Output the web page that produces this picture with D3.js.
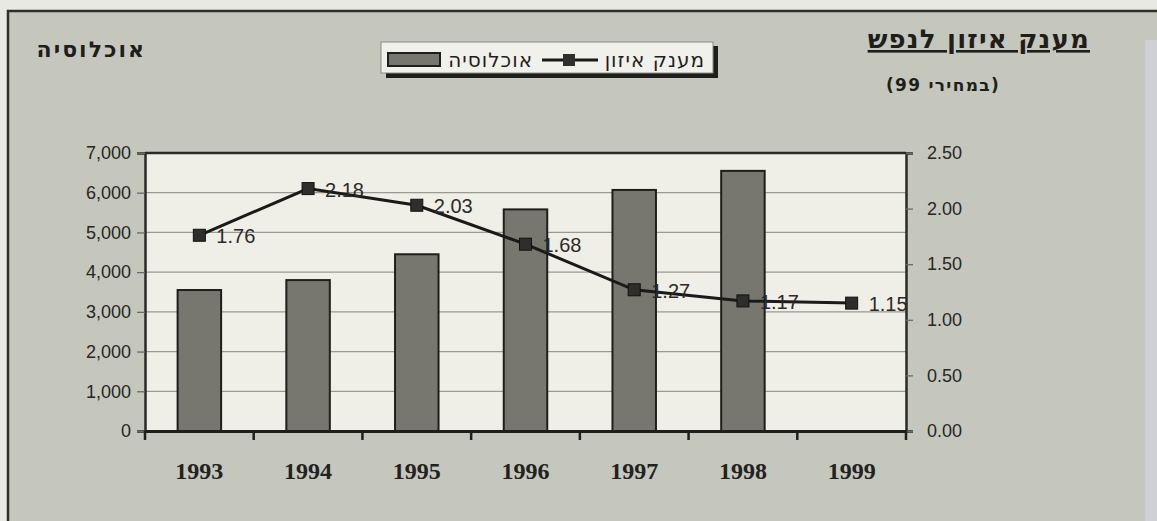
<!DOCTYPE html>
<html>
<head>
<meta charset="utf-8">
<script src="https://cdn.jsdelivr.net/npm/d3@7/dist/d3.min.js"></script>
<style>
  html, body { margin: 0; padding: 0; background: #e9e9e3; }
  svg { display: block; }
</style>
</head>
<body>
<svg id="chart" width="1157" height="521"></svg>
<script>
// ---- data ----
const years = ["1993", "1994", "1995", "1996", "1997", "1998", "1999"];
const population = [3550, 3800, 4450, 5580, 6070, 6550, null];
const grant = [1.76, 2.18, 2.03, 1.68, 1.27, 1.17, 1.15];
const leftTicks = [0, 1000, 2000, 3000, 4000, 5000, 6000, 7000];
const rightTicks = [0, 0.5, 1.0, 1.5, 2.0, 2.5];
const titleText = "מענק איזון לנפש";
const subtitleText = "(במחירי 99)";
const leftAxisTitle = "אוכלוסיה";
const legendBar = "אוכלוסיה";
const legendLine = "מענק איזון";

const svg = d3.select("#chart");
const W = 1157, H = 521;
const m = { left: 145, right: 906, top: 153, bottom: 431 };

// background panel
svg.append("rect").attr("x", 0).attr("y", 0).attr("width", W).attr("height", H).attr("fill", "#e9e9e3");
svg.append("rect").attr("x", 8).attr("y", 11).attr("width", W + 10).attr("height", H + 10)
  .attr("fill", "#c5c7bd").attr("stroke", "#2e2e2a").attr("stroke-width", 2.5);
svg.append("rect").attr("x", 1145).attr("y", 40).attr("width", 12).attr("height", H - 40).attr("fill", "#cfd0d6");

const x = d3.scaleBand().domain(years).range([m.left, m.right]).paddingInner(0).paddingOuter(0);
const yL = d3.scaleLinear().domain([0, 7000]).range([m.bottom, m.top]);
const yR = d3.scaleLinear().domain([0, 2.5]).range([m.bottom, m.top]);

// plot area
svg.append("rect").attr("x", m.left).attr("y", m.top)
  .attr("width", m.right - m.left).attr("height", m.bottom - m.top)
  .attr("fill", "#efefe8");

// gridlines
svg.append("g").selectAll("line").data(leftTicks.filter(d => d > 0 && d < 7000)).join("line")
  .attr("x1", m.left).attr("x2", m.right)
  .attr("y1", d => yL(d)).attr("y2", d => yL(d))
  .attr("stroke", "#9a9a94").attr("stroke-width", 1.3);

// bars
const bw = x.bandwidth() * 0.4;
svg.append("g").selectAll("rect").data(years.map((y, i) => ({ y, v: population[i] })).filter(d => d.v != null)).join("rect")
  .attr("x", d => x(d.y) + x.bandwidth() / 2 - bw / 2)
  .attr("y", d => yL(d.v))
  .attr("width", bw)
  .attr("height", d => yL(0) - yL(d.v))
  .attr("fill", "#77776f").attr("stroke", "#1e1e1c").attr("stroke-width", 2);

// plot border top
svg.append("line").attr("x1", m.left).attr("x2", m.right).attr("y1", m.top).attr("y2", m.top)
  .attr("stroke", "#2a2a28").attr("stroke-width", 2.5);

// axes
const fontSans = "'Liberation Sans', Arial, sans-serif";
const fontHeb = "'DejaVu Sans', 'Liberation Sans', sans-serif";
const leftAxis = d3.axisLeft(yL).tickValues(leftTicks).tickFormat(d3.format(",")).tickSize(8).tickPadding(6);
const gl = svg.append("g").attr("transform", `translate(${m.left},0)`).call(leftAxis);
const rightAxis = d3.axisRight(yR).tickValues(rightTicks).tickFormat(d3.format(".2f")).tickSize(7).tickPadding(14);
const gr = svg.append("g").attr("transform", `translate(${m.right},0)`).call(rightAxis);
const bottomAxis = d3.axisBottom(x).tickSize(0).tickFormat(d => d).tickPadding(31);
const gb = svg.append("g").attr("transform", `translate(0,${m.bottom})`).call(bottomAxis);
// band boundary ticks
svg.append("g").selectAll("line").data(years.concat(["end"])).join("line")
  .attr("x1", (d, i) => i < years.length ? x(d) : m.right)
  .attr("x2", (d, i) => i < years.length ? x(d) : m.right)
  .attr("y1", m.bottom).attr("y2", m.bottom + 9)
  .attr("stroke", "#1e1e1c").attr("stroke-width", 2.5);

[gl, gr].forEach(g => {
  g.selectAll("path.domain").attr("stroke", "#2a2a28").attr("stroke-width", 2.5);
  g.selectAll(".tick line").attr("stroke", "#6a6a66").attr("stroke-width", 1.3);
  g.selectAll(".tick text").attr("font-family", fontSans).attr("font-size", 18).attr("fill", "#262624");
});
gb.selectAll("path.domain").attr("stroke", "#1e1e1c").attr("stroke-width", 3);
gb.selectAll(".tick text").attr("font-family", "'Liberation Serif', 'Times New Roman', serif")
  .attr("font-size", 24).attr("font-weight", "bold").attr("fill", "#222220");

// line
const pts = years.map((y, i) => ({ y, v: grant[i] }));
const line = d3.line().x(d => x(d.y) + x.bandwidth() / 2).y(d => yR(d.v));
svg.append("path").datum(pts).attr("d", line)
  .attr("fill", "none").attr("stroke", "#1a1a18").attr("stroke-width", 3);
const ms = 12;
svg.append("g").selectAll("rect").data(pts).join("rect")
  .attr("x", d => x(d.y) + x.bandwidth() / 2 - ms / 2)
  .attr("y", d => yR(d.v) - ms / 2)
  .attr("width", ms).attr("height", ms)
  .attr("fill", "#2e2e2c").attr("stroke", "#111").attr("stroke-width", 1);
svg.append("g").selectAll("text").data(pts).join("text")
  .attr("x", d => x(d.y) + x.bandwidth() / 2 + 17)
  .attr("y", d => yR(d.v) + 1)
  .attr("dominant-baseline", "central")
  .attr("font-family", fontSans).attr("font-size", 20).attr("fill", "#2a2a28")
  .text(d => d3.format(".2f")(d.v));

// titles
svg.append("text").attr("x", 1090).attr("y", 48).attr("text-anchor", "start").attr("direction", "rtl")
  .attr("font-family", fontHeb).attr("font-size", 26).attr("font-weight", "bold").attr("fill", "#1e1e1c")
  .attr("letter-spacing", 1.2)
  .attr("text-decoration", "underline")
  .text(titleText);
svg.append("text").attr("x", 1000).attr("y", 91).attr("text-anchor", "start").attr("direction", "rtl")
  .attr("font-family", fontHeb).attr("font-size", 17).attr("font-weight", "bold").attr("fill", "#1e1e1c")
  .attr("letter-spacing", 1.3)
  .text(subtitleText);
svg.append("text").attr("x", 146).attr("y", 57).attr("text-anchor", "start").attr("direction", "rtl")
  .attr("font-family", fontHeb).attr("font-size", 22).attr("font-weight", "bold").attr("fill", "#1e1e1c")
  .attr("letter-spacing", 2)
  .text(leftAxisTitle);

// legend
const lg = svg.append("g");
lg.append("rect").attr("x", 386).attr("y", 46).attr("width", 332).attr("height", 32).attr("fill", "#1e1e1c");
lg.append("rect").attr("x", 381).attr("y", 42).attr("width", 332).attr("height", 31)
  .attr("fill", "#f1f1eb").attr("stroke", "#8a8a84").attr("stroke-width", 1);
lg.append("rect").attr("x", 388).attr("y", 53).attr("width", 52).attr("height", 13)
  .attr("fill", "#77776f").attr("stroke", "#1e1e1c").attr("stroke-width", 2);
lg.append("text").attr("x", 533).attr("y", 60).attr("text-anchor", "start").attr("direction", "rtl")
  .attr("dominant-baseline", "central").attr("letter-spacing", 1)
  .attr("font-family", fontHeb).attr("font-size", 20).attr("fill", "#1e1e1c").text(legendBar);
lg.append("line").attr("x1", 542).attr("x2", 598).attr("y1", 60).attr("y2", 60)
  .attr("stroke", "#1a1a18").attr("stroke-width", 3);
lg.append("rect").attr("x", 563).attr("y", 54).attr("width", 12).attr("height", 12).attr("fill", "#2e2e2c");
lg.append("text").attr("x", 705).attr("y", 60).attr("text-anchor", "start").attr("direction", "rtl")
  .attr("dominant-baseline", "central").attr("letter-spacing", 1)
  .attr("font-family", fontHeb).attr("font-size", 20).attr("fill", "#1e1e1c").text(legendLine);
</script>
</body>
</html>
